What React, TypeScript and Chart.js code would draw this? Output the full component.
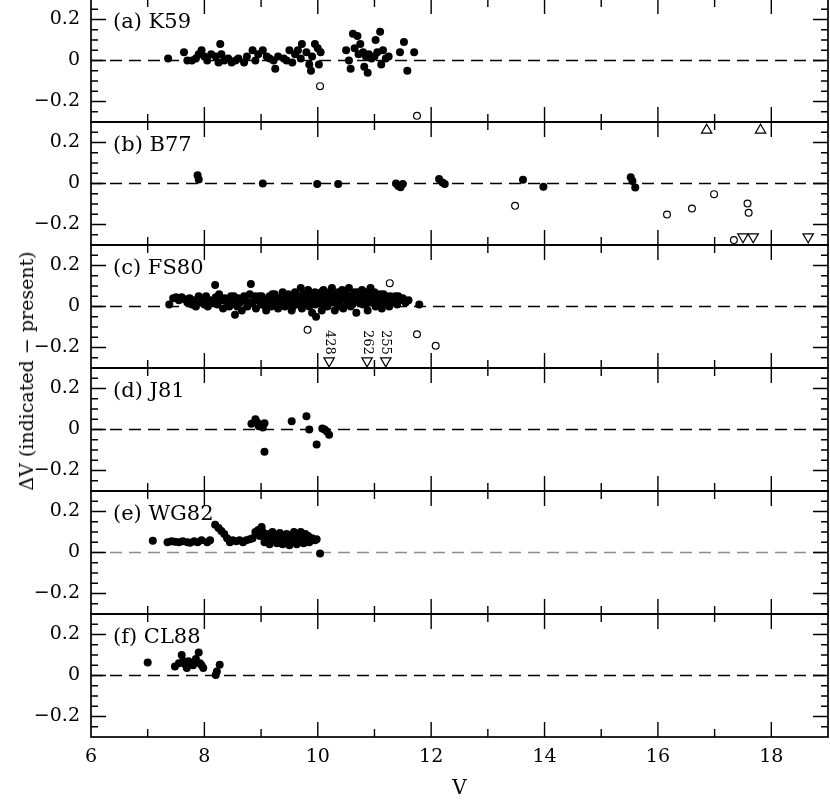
import React, { useEffect, useRef } from 'react';
import { Chart, registerables } from 'chart.js';

Chart.register(...registerables);

type Pt = [number, number];

const FONT = '"DejaVu Serif", serif';

const panelLabels = ['(a) K59', '(b) B77', '(c) FS80', '(d) J81', '(e) WG82', '(f) CL88'];
const xTickLabelValues = [6, 8, 10, 12, 14, 16, 18];
const yTickLabelValues = [-0.2, 0, 0.2];
const xTitle = 'V';
const yTitle = 'ΔV (indicated − present)';

// (a) K59
const k59Filled: Pt[] = [
  [7.36, 0.01], [7.64, 0.04], [7.7, 0.0], [7.78, 0.0], [7.85, 0.01], [7.9, 0.03], [7.95, 0.05],
  [8.0, 0.02], [8.05, 0.0], [8.12, 0.03], [8.2, 0.02], [8.28, 0.08], [8.3, 0.03], [8.25, -0.01],
  [8.35, 0.0], [8.42, 0.01], [8.48, -0.01], [8.55, 0.0], [8.6, 0.01], [8.7, -0.01], [8.75, 0.02],
  [8.85, 0.05], [8.9, 0.0], [8.95, 0.03], [9.03, 0.05], [9.1, 0.02], [9.15, 0.01], [9.22, 0.0],
  [9.25, -0.04], [9.3, 0.02], [9.4, 0.01], [9.45, 0.0], [9.5, 0.05], [9.55, -0.01], [9.6, 0.03],
  [9.65, 0.05], [9.7, 0.01], [9.72, 0.08], [9.8, 0.04], [9.85, -0.02], [9.88, -0.05], [9.9, 0.02],
  [9.95, 0.08], [10.0, 0.06], [10.02, -0.02], [10.05, 0.04],
  [10.5, 0.05], [10.55, 0.0], [10.58, -0.04], [10.62, 0.13], [10.65, 0.06], [10.7, 0.12], [10.72, 0.03],
  [10.75, 0.08], [10.8, 0.04], [10.82, -0.03], [10.85, 0.02], [10.88, -0.06], [10.9, 0.03], [10.95, 0.01],
  [11.0, 0.02], [11.02, 0.1], [11.05, 0.04], [11.1, 0.14], [11.12, -0.02], [11.15, 0.05], [11.2, 0.01],
  [11.25, 0.02], [11.45, 0.04], [11.52, 0.09], [11.58, -0.05], [11.7, 0.04],
];
const k59Open: Pt[] = [[10.04, -0.125], [11.75, -0.27]];

// (b) B77
const b77Filled: Pt[] = [
  [7.88, 0.04], [7.9, 0.02], [9.03, 0.0], [9.99, -0.003], [10.36, -0.002], [11.38, 0.0], [11.42, -0.012],
  [11.46, -0.018], [11.5, -0.003], [12.14, 0.022], [12.2, 0.005], [12.24, -0.002], [13.62, 0.018],
  [13.98, -0.016], [15.52, 0.03], [15.55, 0.012], [15.6, -0.02],
];
const b77Open: Pt[] = [
  [13.48, -0.109], [16.16, -0.151], [16.6, -0.122], [16.99, -0.052], [17.58, -0.098], [17.6, -0.143], [17.34, -0.276],
];
const b77Up: Pt[] = [[16.86, 0.26], [17.81, 0.26]];
const b77Down: Pt[] = [[17.5, -0.26], [17.68, -0.26], [18.65, -0.26]];

// (c) FS80
const fs80Filled: Pt[] = [
  [7.38, 0.01], [7.45, 0.04], [7.5, 0.045], [7.55, 0.03], [7.6, 0.045], [7.65, 0.035], [7.7, 0.02],
  [7.74, 0.04], [7.78, 0.01], [7.82, 0.03], [7.85, 0.0], [7.9, 0.05], [7.93, 0.02], [7.97, 0.035],
  [8.0, 0.01], [8.03, 0.05], [8.06, 0.0], [8.1, 0.03], [8.14, 0.02], [8.19, 0.105], [8.2, 0.045],
  [8.23, 0.01], [8.26, 0.06], [8.3, 0.03], [8.33, -0.01], [8.36, 0.04], [8.4, 0.02], [8.44, 0.0],
  [8.47, 0.05], [8.5, 0.03], [8.54, -0.04], [8.56, 0.01], [8.6, 0.04], [8.63, 0.02], [8.66, -0.02],
  [8.7, 0.05], [8.73, 0.03], [8.76, 0.0], [8.8, 0.06], [8.82, 0.11], [8.85, 0.02], [8.88, 0.04],
  [8.91, -0.01], [8.94, 0.03], [8.97, 0.05], [9.0, 0.01], [9.03, 0.04], [9.06, 0.02], [9.09, -0.02],
  [9.12, 0.03], [9.15, 0.05], [9.18, 0.0], [9.21, 0.03], [9.24, 0.06], [9.27, 0.02], [9.3, -0.01],
  [9.33, 0.04], [9.36, 0.02], [9.39, 0.05], [9.42, 0.0], [9.45, 0.03], [9.48, 0.06], [9.51, 0.02],
  [9.54, -0.02], [9.57, 0.04], [9.6, 0.07], [9.62, 0.01], [9.65, 0.05], [9.68, 0.03], [9.7, 0.09],
  [9.72, -0.01], [9.75, 0.06], [9.78, 0.02], [9.8, 0.04], [9.83, 0.08], [9.85, 0.0], [9.88, 0.05],
  [9.9, -0.03], [9.92, 0.03], [9.95, 0.07], [9.97, -0.05], [10.0, 0.02], [10.02, 0.06], [10.05, 0.04],
  [10.07, -0.02], [10.1, 0.08], [10.12, 0.03], [10.15, 0.05], [10.17, 0.0], [10.2, 0.07], [10.22, 0.02],
  [10.25, 0.09], [10.28, 0.04], [10.3, -0.02], [10.33, 0.06], [10.35, 0.01], [10.38, 0.05], [10.4, 0.03],
  [10.43, 0.08], [10.45, -0.01], [10.48, 0.04], [10.5, 0.06], [10.53, 0.02], [10.55, 0.09], [10.58, 0.0],
  [10.6, 0.05], [10.63, 0.03], [10.65, 0.07], [10.68, -0.03], [10.7, 0.04], [10.73, 0.02], [10.75, 0.06],
  [10.78, 0.08], [10.8, 0.01], [10.83, 0.05], [10.85, 0.03], [10.88, -0.02], [10.9, 0.06], [10.93, 0.09],
  [10.95, 0.02], [10.98, 0.04], [11.0, 0.07], [11.02, 0.0], [11.05, 0.05], [11.08, 0.03], [11.1, 0.06],
  [11.13, -0.01], [11.15, 0.04], [11.18, 0.02], [11.2, 0.05], [11.23, 0.03], [11.26, 0.0], [11.3, 0.04],
  [11.33, 0.02], [11.37, 0.05], [11.4, 0.01], [11.45, 0.03], [11.5, 0.04], [11.55, 0.02], [11.6, 0.03],
  [11.79, 0.01],
  [8.52, 0.05], [8.58, 0.0], [8.68, 0.03], [8.78, 0.02], [8.9, 0.05], [8.99, 0.03], [9.01, 0.05],
  [9.08, 0.0], [9.14, 0.04], [9.2, 0.06], [9.26, 0.01], [9.32, 0.03], [9.38, 0.07], [9.44, 0.02],
  [9.5, 0.05], [9.56, 0.0], [9.61, 0.04], [9.66, 0.02], [9.71, 0.05], [9.76, 0.03], [9.81, 0.06],
  [9.86, 0.02], [9.91, 0.05], [9.96, 0.01], [10.01, 0.04], [10.06, 0.07], [10.11, 0.01], [10.16, 0.04],
  [10.21, 0.05], [10.26, 0.02], [10.31, 0.04], [10.36, 0.07], [10.41, 0.0], [10.46, 0.06], [10.51, 0.03],
  [10.56, 0.05], [10.61, 0.01], [10.66, 0.04], [10.71, 0.07], [10.76, 0.03], [10.81, 0.05], [10.86, 0.07],
  [10.91, 0.02], [10.96, 0.05], [11.01, 0.03], [11.06, 0.01], [11.11, 0.04], [11.16, 0.06], [11.21, 0.02],
  [11.28, 0.05], [11.35, 0.03], [11.42, 0.05],
];
const fs80Open: Pt[] = [[11.27, 0.114], [9.82, -0.114], [11.75, -0.135], [12.08, -0.192]];
const fs80Down: Pt[] = [[10.2, -0.265], [10.87, -0.265], [11.2, -0.265]];
const fs80DownLabels = ['428', '262', '255'];

// (d) J81
const j81Filled: Pt[] = [
  [8.83, 0.028], [8.9, 0.05], [8.93, 0.035], [8.96, 0.016], [9.0, 0.02], [9.03, 0.01], [9.06, 0.03],
  [9.06, -0.109], [9.54, 0.04], [9.8, 0.065], [9.85, 0.0], [9.98, -0.073], [10.08, 0.005], [10.12, 0.0],
  [10.16, -0.01], [10.2, -0.025],
];

// (e) WG82
const wg82Filled: Pt[] = [
  [7.09, 0.057], [7.35, 0.05], [7.42, 0.055], [7.48, 0.052], [7.55, 0.05], [7.62, 0.055], [7.7, 0.05],
  [7.75, 0.048], [7.82, 0.055], [7.88, 0.05], [7.95, 0.06], [8.05, 0.05], [8.1, 0.06], [8.19, 0.135],
  [8.25, 0.12], [8.3, 0.105], [8.35, 0.09], [8.4, 0.07], [8.45, 0.05], [8.5, 0.06], [8.56, 0.055],
  [8.62, 0.06], [8.68, 0.05], [8.74, 0.06], [8.8, 0.065], [8.85, 0.07], [8.9, 0.1], [8.95, 0.11],
  [8.98, 0.08], [9.01, 0.125], [9.03, 0.1], [9.06, 0.05], [9.08, 0.08], [9.1, 0.065], [9.13, 0.09],
  [9.15, 0.04], [9.18, 0.07], [9.2, 0.1], [9.23, 0.055], [9.25, 0.08], [9.28, 0.045], [9.3, 0.07],
  [9.33, 0.095], [9.35, 0.06], [9.38, 0.04], [9.4, 0.075], [9.43, 0.05], [9.45, 0.09], [9.48, 0.06],
  [9.5, 0.035], [9.53, 0.08], [9.55, 0.05], [9.58, 0.1], [9.6, 0.065], [9.63, 0.04], [9.65, 0.085],
  [9.68, 0.055], [9.7, 0.1], [9.72, 0.07], [9.75, 0.045], [9.78, 0.09], [9.8, 0.06], [9.83, 0.08],
  [9.85, 0.05], [9.9, 0.07], [9.95, 0.06], [9.98, 0.065], [10.04, -0.005],
];

// (f) CL88
const cl88Filled: Pt[] = [
  [7.0, 0.063], [7.48, 0.044], [7.55, 0.06], [7.6, 0.1], [7.63, 0.07], [7.66, 0.055], [7.69, 0.036],
  [7.72, 0.07], [7.76, 0.06], [7.8, 0.05], [7.85, 0.08], [7.9, 0.112], [7.92, 0.06], [7.95, 0.05],
  [7.98, 0.036], [8.2, 0.003], [8.22, 0.02], [8.27, 0.052],
];

const zeroLine: Pt[] = [[6, 0], [19, 0]];

type Kind = 'filled' | 'open' | 'up' | 'down';
interface Series { data: Pt[]; kind: Kind; }
interface PanelSpec { label: string; series: Series[]; zeroColor: string; notes?: { pts: Pt[]; labels: string[] }; }

const panels: PanelSpec[] = [
  { label: panelLabels[0], zeroColor: '#000', series: [{ data: k59Filled, kind: 'filled' }, { data: k59Open, kind: 'open' }] },
  {
    label: panelLabels[1], zeroColor: '#000', series: [
      { data: b77Filled, kind: 'filled' }, { data: b77Open, kind: 'open' },
      { data: b77Up, kind: 'up' }, { data: b77Down, kind: 'down' },
    ],
  },
  {
    label: panelLabels[2], zeroColor: '#000', series: [
      { data: fs80Filled, kind: 'filled' }, { data: fs80Open, kind: 'open' }, { data: fs80Down, kind: 'down' },
    ], notes: { pts: fs80Down, labels: fs80DownLabels },
  },
  { label: panelLabels[3], zeroColor: '#000', series: [{ data: j81Filled, kind: 'filled' }] },
  { label: panelLabels[4], zeroColor: '#8c8c8c', series: [{ data: wg82Filled, kind: 'filled' }] },
  { label: panelLabels[5], zeroColor: '#000', series: [{ data: cl88Filled, kind: 'filled' }] },
];

function toXY(d: Pt[]) {
  return d.map(([x, y]) => ({ x, y }));
}

function datasetFor(s: Series) {
  const base: any = { data: toXY(s.data), showLine: false, borderColor: '#000' };
  if (s.kind === 'filled') {
    return { ...base, pointStyle: 'circle', pointRadius: 4, pointBackgroundColor: '#000', pointBorderWidth: 0 };
  }
  if (s.kind === 'open') {
    return { ...base, pointStyle: 'circle', pointRadius: 3.4, pointBackgroundColor: '#fff', pointBorderColor: '#000', pointBorderWidth: 1.2 };
  }
  return {
    ...base, pointStyle: 'triangle', pointRadius: 6, pointRotation: s.kind === 'down' ? 180 : 0,
    pointBackgroundColor: '#fff', pointBorderColor: '#000', pointBorderWidth: 1.2,
  };
}

const framePlugin = {
  id: 'frame',
  afterDatasetsDraw(chart: any, _args: any, opts: any) {
    const { ctx, chartArea: a, scales } = chart;
    const xs = scales.x;
    const ys = scales.y;
    ctx.save();
    ctx.strokeStyle = '#000';
    ctx.lineWidth = 1.4;
    ctx.beginPath();
    for (let v = 7; v <= 18; v++) {
      const px = xs.getPixelForValue(v);
      const len = v % 2 === 0 ? 15 : 8;
      ctx.moveTo(px, a.top);
      ctx.lineTo(px, a.top + len);
      ctx.moveTo(px, a.bottom);
      ctx.lineTo(px, a.bottom - len);
    }
    for (let i = -5; i <= 5; i++) {
      const py = ys.getPixelForValue(i * 0.05);
      const len = i % 4 === 0 ? 15 : 7;
      ctx.moveTo(a.left, py);
      ctx.lineTo(a.left + len, py);
      ctx.moveTo(a.right, py);
      ctx.lineTo(a.right - len, py);
    }
    ctx.stroke();
    ctx.lineWidth = 1.7;
    ctx.strokeRect(a.left, a.top, a.right - a.left, a.bottom - a.top);

    ctx.fillStyle = '#000';
    ctx.font = `21px ${FONT}`;
    ctx.textAlign = 'left';
    ctx.textBaseline = 'middle';
    ctx.fillText(opts.label, a.left + 22, a.top + 24);

    if (opts.notes) {
      ctx.font = `13px ${FONT}`;
      opts.notes.pts.forEach((p: Pt, i: number) => {
        const px = xs.getPixelForValue(p[0]);
        const py = ys.getPixelForValue(p[1]);
        ctx.save();
        ctx.translate(px, py - 6);
        ctx.rotate(Math.PI / 2);
        ctx.textAlign = 'right';
        ctx.textBaseline = 'middle';
        ctx.fillText(opts.notes.labels[i], 0, 0);
        ctx.restore();
      });
    }
    ctx.restore();
  },
};

function fmtY(value: number) {
  const v = Math.round(value * 100) / 100;
  const hit = yTickLabelValues.find((t) => Math.abs(t - v) < 1e-6);
  if (hit === undefined) return '';
  if (hit === 0) return '0';
  return hit < 0 ? '−' + Math.abs(hit).toString() : hit.toString();
}

function fmtX(value: number) {
  return xTickLabelValues.includes(value) ? String(value) : '';
}

function Panel({ spec, index }: { spec: PanelSpec; index: number }) {
  const ref = useRef<HTMLCanvasElement>(null);
  const isBottom = index === 5;
  const top = isBottom ? 612 : 123 * index - 3;
  const height = isBottom ? 193 : 127;

  useEffect(() => {
    const datasets: any[] = spec.series.map(datasetFor);
    datasets.push({
      type: 'line', data: toXY(zeroLine), borderColor: spec.zeroColor, borderWidth: 1.5,
      borderDash: [12, 7], pointRadius: 0, showLine: true, fill: false,
    });
    const chart = new Chart(ref.current as HTMLCanvasElement, {
      type: 'scatter',
      data: { datasets },
      options: {
        animation: false,
        responsive: false,
        maintainAspectRatio: false,
        events: [],
        layout: { autoPadding: false, padding: { left: 0, right: 2, top: 2, bottom: isBottom ? 0 : 2 } },
        plugins: {
          legend: { display: false },
          tooltip: { enabled: false },
          frame: { label: spec.label, notes: spec.notes },
        } as any,
        scales: {
          x: {
            type: 'linear', min: 6, max: 19, display: isBottom,
            grid: { display: false, drawTicks: false },
            border: { display: false },
            ticks: {
              stepSize: 1, autoSkip: false, maxRotation: 0, padding: 9, color: '#000',
              font: { family: FONT, size: 19 }, callback: (v: any) => fmtX(Number(v)),
            },
            title: { display: isBottom, text: xTitle, color: '#000', font: { family: FONT, size: 20 }, padding: { top: 0, bottom: 4 } },
            afterFit: (s: any) => {
              if (isBottom) s.height = 68;
              s.paddingLeft = 0;
              s.paddingRight = 0;
            },
          },
          y: {
            type: 'linear', min: -0.3, max: 0.3,
            grid: { display: false, drawTicks: false },
            border: { display: false },
            ticks: {
              stepSize: 0.1, autoSkip: false, padding: 11, color: '#000',
              font: { family: FONT, size: 19 }, callback: (v: any) => fmtY(Number(v)),
            },
            afterFit: (s: any) => { s.width = 91; s.paddingTop = 0; s.paddingBottom = 0; },
          },
        },
      } as any,
      plugins: [framePlugin],
    } as any);
    return () => chart.destroy();
  }, [spec, isBottom]);

  return (
    <canvas
      ref={ref}
      width={830}
      height={height}
      style={{ position: 'absolute', left: 0, top, width: 830, height, display: 'block' }}
    />
  );
}

export default function App() {
  return (
    <div style={{ position: 'absolute', left: 0, top: 0, width: 830, height: 805, overflow: 'hidden', background: '#fff' }}>
      {panels.map((p, i) => (
        <Panel key={i} spec={p} index={i} />
      ))}
      <div
        style={{
          position: 'absolute', left: 26, top: 371, transform: 'translate(-50%, -50%) rotate(-90deg)',
          whiteSpace: 'nowrap', fontFamily: FONT, fontSize: 19, color: '#000', lineHeight: '20px',
        }}
      >
        {yTitle}
      </div>
    </div>
  );
}
